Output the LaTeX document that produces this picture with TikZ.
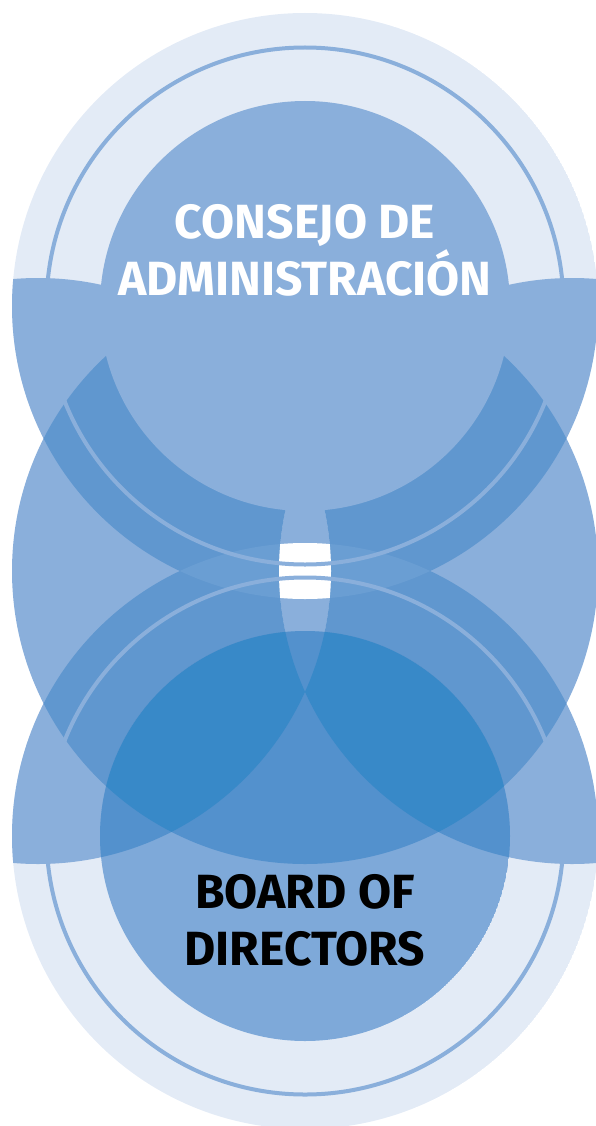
\documentclass[tikz,border=0pt]{standalone}
\usepackage{fontspec}
\setmainfont{Fira Sans}
\usepackage{tikz}

\definecolor{pale}{HTML}{E3EBF6}
\definecolor{medium}{HTML}{8AAFDB}
\definecolor{dark}{HTML}{6097CF}
\definecolor{lens}{HTML}{6A9ED3}
\definecolor{board}{HTML}{7EA9D9}
\definecolor{boardmid}{HTML}{5391CD}
\definecolor{boarddeep}{HTML}{3889C8}

\newcommand{\outerR}{293pt}
\newcommand{\ringR}{258.5pt}
\newcommand{\innerR}{205pt}
% the two side circles and the two halo circles
\newcommand{\petals}{(leftc) circle[radius=\outerR] (rightc) circle[radius=\outerR]}
\newcommand{\halos}{(topc) circle[radius=\outerR] (botc) circle[radius=\outerR]}

\begin{document}
\begin{tikzpicture}[x=1pt, y=-1pt]
\tikzstyle{ring} = [draw=medium, line width=4pt]
\tikzstyle{toptext} = [text=white, align=center, font=\fontsize{48}{57}\selectfont\bfseries]
\tikzstyle{bottext} = [text=black, align=center, font=\fontsize{48}{57}\selectfont\bfseries]
\useasboundingbox (0,0) rectangle (596,1126);
\coordinate (topc) at (305,306);
\coordinate (midc) at (305,571);
\coordinate (botc) at (305,836);
\coordinate (leftc) at (38,571);
\coordinate (rightc) at (572,571);
% outline
\begin{scope}
\clip (topc) circle[radius=\outerR] (midc) circle[radius=\outerR] (botc) circle[radius=\outerR];
\fill[pale] \halos;
\fill[medium, even odd rule] \petals;
\begin{scope}
\clip (midc) circle[radius=\outerR];
\clip (leftc) circle[radius=\outerR];
\clip (rightc) circle[radius=\outerR];
\fill[medium] \halos;
\end{scope}
\begin{scope}
\clip (midc) circle[radius=\outerR];
\clip \halos;
\fill[dark, even odd rule] \petals;
\end{scope}
% lens between the halos
\begin{scope}
\clip (topc) circle[radius=\outerR];
\clip (botc) circle[radius=\outerR];
\fill[lens, even odd rule] \petals;
\clip (leftc) circle[radius=\outerR];
\clip (rightc) circle[radius=\outerR];
\fill[white] (0,0) rectangle (596,1126);
\end{scope}
\end{scope}
\foreach \c in {topc, botc}
\draw[ring] (\c) circle[radius=\ringR];
% discs
\fill[medium] (topc) circle[radius=\innerR];
\begin{scope}
\clip (botc) circle[radius=\innerR];
\fill[board] (botc) circle[radius=\innerR];
\fill[boardmid] (midc) circle[radius=\outerR];
\fill[boardmid, even odd rule] \petals;
\clip (midc) circle[radius=\outerR];
\fill[boarddeep, even odd rule] \petals;
\end{scope}
\node[toptext] (consejo) at (305,250) {CONSEJO DE\\ADMINISTRACIÓN};
\node[bottext] (board) at (305,920) {BOARD OF\\DIRECTORS};
\end{tikzpicture}
\end{document}
